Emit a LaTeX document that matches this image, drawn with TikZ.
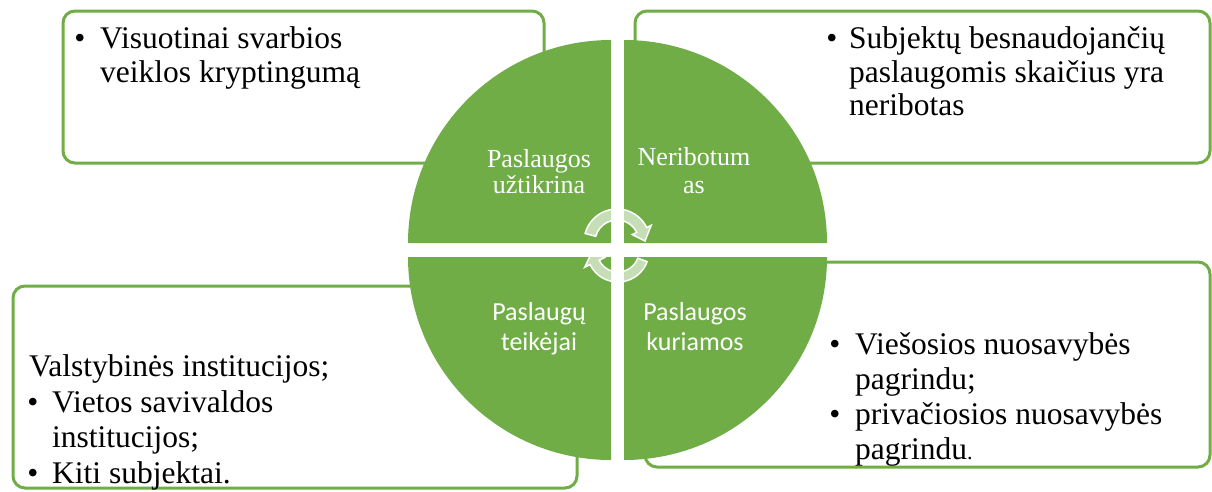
\documentclass[tikz,border=0pt]{standalone}
\usepackage{fontspec}
\setmainfont{Liberation Serif}
\newfontfamily\calibri{Carlito}
\definecolor{leaf}{HTML}{70AD47}

\begin{document}
\begin{tikzpicture}[x=1pt,y=-1pt,
    box/.style={draw=leaf,line width=3pt,rounded corners=12pt,inner sep=0pt},
    quarter/.style={fill=leaf},
    cyc/.style={fill=white,fill opacity=0.6,draw=white,line width=1.5pt},
    txt/.style={font=\fontsize{31.5}{34}\selectfont,anchor=base west,inner sep=0pt},
    bul/.style={txt,anchor=base},
    qserif/.style={text=white,font=\rmfamily\fontsize{26}{30}\selectfont,anchor=base,inner sep=0pt},
    qsans/.style={qserif,font=\calibri\fontsize{26}{30}\selectfont}]
  \useasboundingbox (0,0) rectangle (1212,491);
  % outer boxes
  \node[box,minimum width=481pt,minimum height=152pt] (tlbox) at (303.5,87) {};
  \node[box,minimum width=575pt,minimum height=152pt] (trbox) at (922.5,87) {};
  \node[box,minimum width=564pt,minimum height=202pt] (blbox) at (295,387) {};
  \node[box,minimum width=565pt,minimum height=205pt] (brbox) at (927.5,364.5) {};
  % the four quarters
  \fill[quarter] (611,243) -- +(-203,0) arc[start angle=180,end angle=270,radius=203] -- cycle;
  \fill[quarter] (624,243) -- +(203,0) arc[start angle=0,end angle=-90,radius=203] -- cycle;
  \fill[quarter] (611,257) -- +(-203,0) arc[start angle=180,end angle=90,radius=203] -- cycle;
  \fill[quarter] (624,257) -- +(203,0) arc[start angle=0,end angle=90,radius=203] -- cycle;
  % circular arrows
  \begin{scope}[shift={(617,242)}]
    \path[cyc] (195:33) arc[start angle=195,end angle=334,radius=33] -- (334:38)
      -- (358:28) -- (334:17) -- (334:22) arc[start angle=334,end angle=195,radius=22] -- cycle;
  \end{scope}
  \begin{scope}[shift={(618,251)}]
    \path[cyc] (20:31) arc[start angle=20,end angle=154,radius=31] -- (154:37)
      -- (178:26) -- (154:15) -- (154:21) arc[start angle=154,end angle=20,radius=21] -- cycle;
  \end{scope}
  % quarter labels
  \path (539,167) node[qserif] (q1a) {Paslaugos}
        (539,193) node[qserif] (q1b) {užtikrina}
        (694,165) node[qserif] (q2a) {Neribotum}
        (694,193) node[qserif] (q2b) {as}
        (539,320) node[qsans] (q3a) {Paslaugų}
        (539,350) node[qsans] (q3b) {teikėjai}
        (695,320) node[qsans] (q4a) {Paslaugos}
        (695,350) node[qsans] (q4b) {kuriamos};
  % box texts
  \path (80,48) node[bul] (tlb) {\textbullet}
        (100,48) node[txt] (tl1) {Visuotinai svarbios}
        (100,82) node[txt] (tl2) {veiklos kryptingumą};
  \path (832,48) node[bul] (trb) {\textbullet}
        (849,48) node[txt] (tr1) {Subjektų besnaudojančių}
        (849,82) node[txt] (tr2) {paslaugomis skaičius yra}
        (849,115) node[txt] (tr3) {neribotas};
  \path (835,354) node[bul] (brb1) {\textbullet}
        (855,354) node[txt] (br1) {Viešosios nuosavybės}
        (855,389) node[txt] (br2) {pagrindu;}
        (835,424) node[bul] (brb2) {\textbullet}
        (855,424) node[txt] (br3) {privačiosios nuosavybės}
        (855,459) node[txt] (br4) {pagrindu{\fontsize{22}{22}\selectfont.}};
  \path (29,376) node[txt] (bl1) {Valstybinės institucijos;}
        (33,412) node[bul] (blb1) {\textbullet}
        (52,412) node[txt] (bl2) {Vietos savivaldos}
        (52,447) node[txt] (bl3) {institucijos;}
        (33,483) node[bul] (blb2) {\textbullet}
        (52,483) node[txt] (bl4) {Kiti subjektai.};
\end{tikzpicture}
\end{document}
